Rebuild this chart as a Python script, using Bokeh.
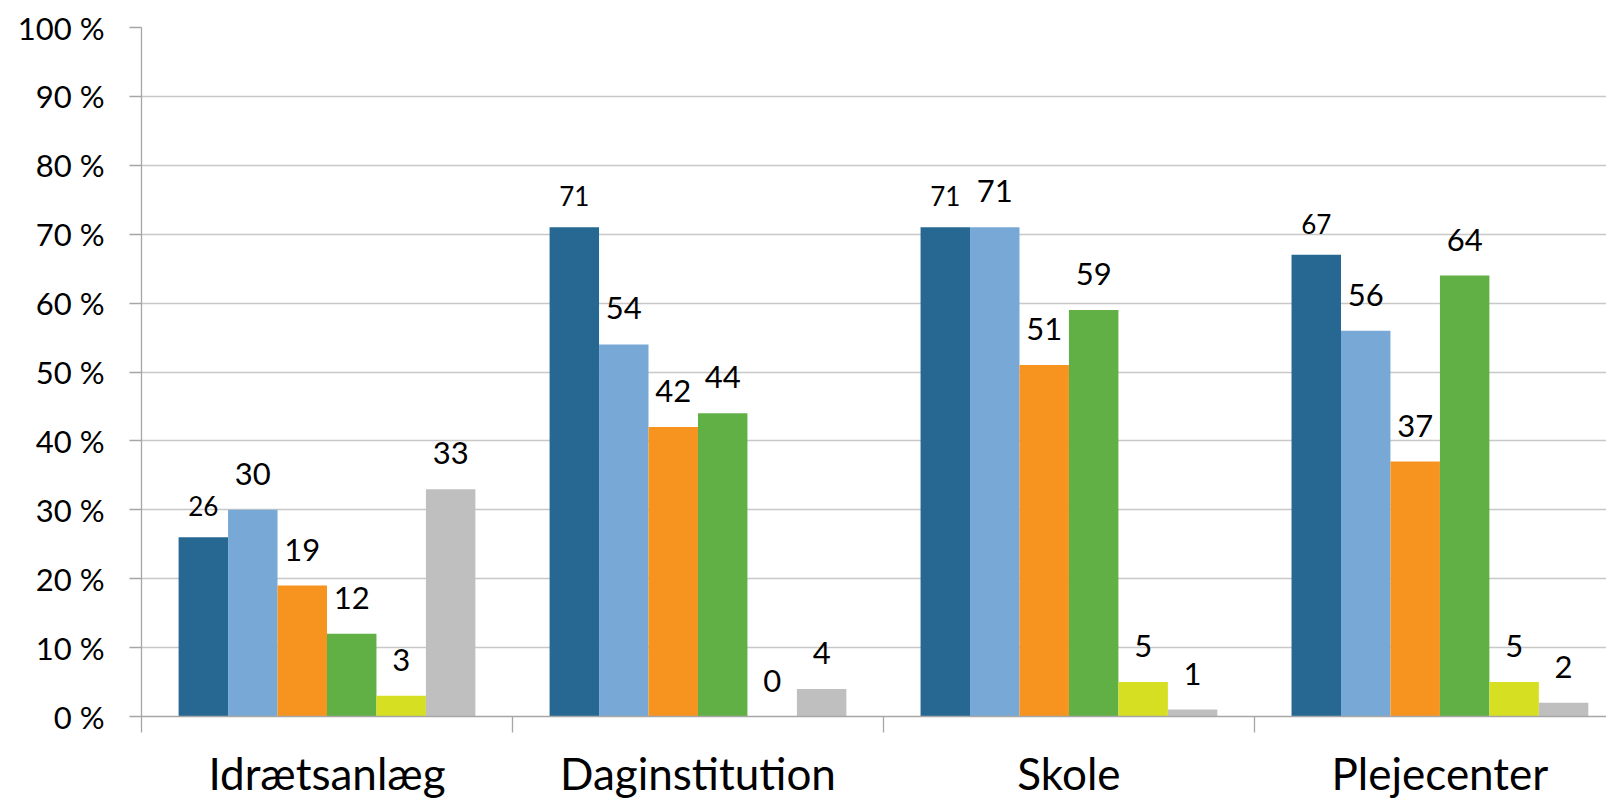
import numpy as np
from bokeh.plotting import figure
from bokeh.models import Range1d, FixedTicker, ColumnDataSource
from bokeh.core.properties import value
from bokeh.embed import file_html
from bokeh.resources import INLINE

categories = ["Idrætsanlæg", "Daginstitution", "Skole", "Plejecenter"]
serie1 = [26, 71, 71, 67]
serie2 = [30, 54, 71, 56]
serie3 = [19, 42, 51, 37]
serie4 = [12, 44, 59, 64]
serie5 = [3, 0, 5, 5]
serie6 = [33, 4, 1, 2]
series = [serie1, serie2, serie3, serie4, serie5, serie6]
colors = ["#276893", "#78A9D6", "#F7941F", "#60B045", "#D7DF23", "#BFBFBF"]
label_sizes = ["26px", "31px", "31px", "31px", "31px", "31px"]
label_offsets = [-31, -36, -36, -36, -36, -36]
y_ticks = list(range(0, 101, 10))

FONT = "Lato"
n_cat = len(categories)
n_ser = len(series)
group = 0.8
bw = group / n_ser

p = figure(width=1606, height=801, output_backend="svg", toolbar_location=None,
           x_range=Range1d(0, 3.949), y_range=Range1d(0, 100),
           min_border_left=141, min_border_right=0, min_border_top=27, min_border_bottom=84)
p.outline_line_color = None
p.xgrid.grid_line_color = None
p.ygrid.grid_line_color = "#C8C8C8"
p.ygrid.grid_line_width = 1.3
p.ygrid.ticker = FixedTicker(ticks=y_ticks)

centers = np.arange(n_cat) + 0.5
for j, vals in enumerate(series):
    xs = centers + (j - (n_ser - 1) / 2) * bw
    src = ColumnDataSource(dict(x=xs, top=vals, lab=[str(v) for v in vals]))
    p.vbar(x="x", top="top", bottom=0, width=bw, source=src,
           fill_color=colors[j], line_color=None)
    p.text(x="x", y="top", text="lab", source=src, text_align="center",
           text_baseline="alphabetic", y_offset=label_offsets[j], text_font=value(FONT),
           text_font_size=label_sizes[j], text_color="#000000")

# y axis
p.yaxis.ticker = FixedTicker(ticks=y_ticks)
p.yaxis.major_label_overrides = {t: f"{t} %" for t in y_ticks}
p.yaxis.major_label_text_font = FONT
p.yaxis.major_label_text_font_size = "31px"
p.yaxis.major_label_text_color = "#000000"
p.yaxis.major_tick_in = 0
p.yaxis.major_tick_out = 12
p.yaxis.minor_tick_line_color = None
p.yaxis.axis_line_color = "#A6A6A6"
p.yaxis.major_tick_line_color = "#A6A6A6"
p.yaxis.axis_line_width = 1.3
p.yaxis.major_tick_line_width = 1.3
p.yaxis.major_label_standoff = 25

# x axis
p.xaxis.ticker = FixedTicker(ticks=list(centers), minor_ticks=list(range(n_cat + 1)))
p.xaxis.major_label_overrides = {float(c): categories[i] for i, c in enumerate(centers)}
p.xaxis.major_label_text_font = FONT
p.xaxis.major_label_text_font_size = "44px"
p.xaxis.major_label_text_color = "#000000"
p.xaxis.major_tick_line_color = None
p.xaxis.major_tick_in = 0
p.xaxis.major_tick_out = 0
p.xaxis.minor_tick_in = 0
p.xaxis.minor_tick_out = 16
p.xaxis.minor_tick_line_color = "#A6A6A6"
p.xaxis.minor_tick_line_width = 1.3
p.xaxis.axis_line_color = "#A6A6A6"
p.xaxis.axis_line_width = 1.3
p.xaxis.major_label_standoff = 14

open("out.html", "w").write(file_html(p, INLINE))
